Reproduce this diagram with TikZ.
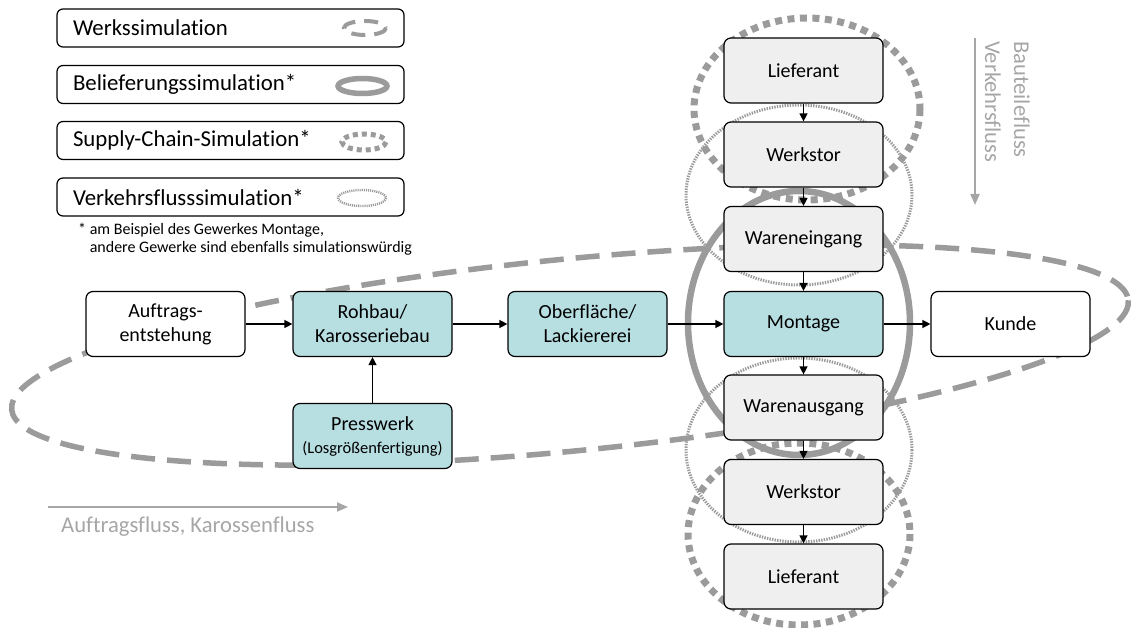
\documentclass[tikz,border=0pt]{standalone}
\usepackage{fontspec}
\setmainfont{Carlito}[Ligatures=NoCommon]
\usetikzlibrary{arrows.meta}
\definecolor{procfill}{RGB}{183,222,225}
\definecolor{colfill}{RGB}{239,239,239}
\definecolor{ringgray}{RGB}{155,155,155}
\definecolor{flowgray}{RGB}{166,166,166}

\begin{document}
\begin{tikzpicture}[x=1pt,y=-1pt,
  box/.style={draw=black, line width=1.2pt, rounded corners=7pt,
    minimum width=159pt, minimum height=65pt, inner sep=0pt,
    align=center, font=\fontsize{20}{24}\selectfont},
  proc/.style={box, fill=procfill},
  plainbox/.style={box, fill=white},
  colbox/.style={box, fill=colfill},
  legendbox/.style={draw=black, fill=white, line width=1.2pt, rounded corners=6pt,
    minimum height=38pt, text width=315pt, inner xsep=16pt, inner ysep=0pt,
    align=left, font=\fontsize{22.8}{26}\selectfont},
  link/.style={-{Triangle[length=8pt,width=8pt]}, line width=1.3pt},
  flowarrow/.style={draw=flowgray, line width=2pt, -{Triangle[length=11pt,width=9pt]}},
  flowtext/.style={text=flowgray, inner sep=0pt, font=\fontsize{22.6}{26}\selectfont},
  werkring/.style={draw=ringgray, line width=5.5pt, dash pattern=on 24pt off 12pt},
  liefring/.style={draw=ringgray, line width=6.5pt},
  supplyring/.style={draw=ringgray, line width=7pt, dash pattern=on 7pt off 5.5pt},
  trafficring/.style={draw=ringgray, line width=3pt, dash pattern=on 1.4pt off 1.2pt}
]
\useasboundingbox (0,0) rectangle (1133,628);

% simulation scopes (behind the process boxes)
\draw[werkring, rotate around={5.6:(570,355)}] (570,355) ellipse [x radius=561, y radius=96];
\draw[liefring] (799,323) ellipse [x radius=111, y radius=132];
\draw[supplyring] (807,109) ellipse [x radius=113, y radius=91];
\draw[supplyring] (799,534) ellipse [x radius=111, y radius=91];
\draw[trafficring] (799,195) ellipse [x radius=113, y radius=90];
\draw[trafficring] (799,450) ellipse [x radius=113, y radius=92];

% main process chain
\node[plainbox] (auftrag) at (165.5,324) {Auftrags-\\entstehung};
\node[proc] (rohbau) at (372.5,324) {Rohbau/\\Karosseriebau};
\node[proc] (lack) at (587.5,324) {Oberfläche/\\Lackiererei};
\node[proc] (montage) at (803.5,324) {Montage};
\node[plainbox] (kunde) at (1010.5,324) {Kunde};
\node[proc] (press) at (372.5,436) {Presswerk\\[-1pt]{\fontsize{16.5}{19}\selectfont(Losgrößenfertigung)}};

% supply column
\node[colbox] (lieferantA) at (803.5,70.5) {Lieferant};
\node[colbox] (werkstorA) at (803.5,154.5) {Werkstor};
\node[colbox] (eingang) at (803.5,239) {Wareneingang};
\node[colbox] (ausgang) at (803.5,407.5) {Warenausgang};
\node[colbox] (werkstorB) at (803.5,492) {Werkstor};
\node[colbox] (lieferantB) at (803.5,576.5) {Lieferant};

% connectors
\draw[link] (auftrag) -- (rohbau);
\draw[link] (rohbau) -- (lack);
\draw[link] (lack) -- (montage);
\draw[link] (montage) -- (kunde);
\draw[link] (press) -- (rohbau);
\draw[link] (lieferantA) -- (werkstorA);
\draw[link] (werkstorA) -- (eingang);
\draw[link] (eingang) -- (montage);
\draw[link] (montage) -- (ausgang);
\draw[link] (ausgang) -- (werkstorB);
\draw[link] (werkstorB) -- (lieferantB);

% legend
\node[legendbox] (lgA) at (230.5,28) {Werkssimulation};
\node[legendbox] (lgB) at (230.5,84.5) {Belieferungssimulation*};
\node[legendbox] (lgC) at (230.5,140.5) {Supply-Chain-Simulation*};
\node[legendbox] (lgD) at (230.5,197) {Verkehrsflusssimulation*};
\draw[draw=ringgray, line width=4pt, dash pattern=on 14pt off 9pt] (365,28) ellipse [x radius=21, y radius=7];
\draw[draw=ringgray, line width=5.5pt] (362.5,86) ellipse [x radius=24.5, y radius=7.5];
\draw[draw=ringgray, line width=5pt, dash pattern=on 5pt off 4pt] (364,142) ellipse [x radius=22, y radius=8];
\draw[draw=ringgray, line width=2.4pt, dash pattern=on 1.1pt off 1pt] (362,198) ellipse [x radius=24, y radius=8];
\node[anchor=west, align=left, inner sep=0pt, font=\fontsize{16}{18.5}\selectfont] (note) at (78,239)
  {* am Beispiel des Gewerkes Montage,\\\phantom{* }andere Gewerke sind ebenfalls simulationswürdig};

% flow directions
\coordinate (hstart) at (48,507);
\coordinate (hend) at (348,507);
\draw[flowarrow] (hstart) -- (hend);
\node[flowtext, anchor=west] (hlabel) at (61,527) {Auftragsfluss, Karossenfluss};
\coordinate (vstart) at (975,38);
\coordinate (vend) at (975,205);
\draw[flowarrow] (vstart) -- (vend);
\node[flowtext, rotate=-90, anchor=west] (vlabelA) at (1022,41) {Bauteilefluss};
\node[flowtext, rotate=-90, anchor=west] (vlabelB) at (993,41) {Verkehrsfluss};
\end{tikzpicture}
\end{document}
